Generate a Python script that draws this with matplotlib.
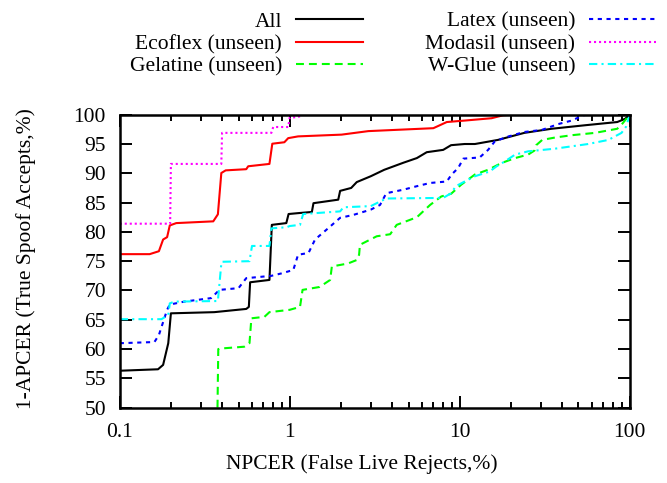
import matplotlib
matplotlib.use("Agg")
import matplotlib.pyplot as plt
from matplotlib.ticker import FixedLocator, FormatStrFormatter, LogLocator, NullFormatter

plt.rcParams["font.family"] = ["Liberation Serif", "DejaVu Serif"]
plt.rcParams["font.size"] = 15.5

# curves (x = NPCER %, y = 1-APCER %)
all_x = [0.1, 0.168, 0.18, 0.193, 0.2, 0.36, 0.555, 0.575, 0.585, 0.76, 0.785, 0.955, 0.985, 1.12,
         1.35, 1.38, 1.93, 1.98, 2.3, 2.48, 3.0, 3.6, 4.66, 5.6, 6.4, 8.0, 8.9, 10.7, 12.3,
         16.8, 24, 34.7, 54.6, 84.5, 94, 100]
all_y = [56.3, 56.55, 57.3, 61.0, 66.1, 66.3, 66.85, 67.2, 71.4, 71.8, 81.2, 81.5, 83.05, 83.2,
         83.4, 84.9, 85.5, 87.0, 87.5, 88.5, 89.5, 90.6, 91.8, 92.6, 93.6, 94.0, 94.8, 95.0, 95.0,
         95.7, 96.9, 97.6, 98.2, 98.75, 99.3, 100]

eco_x = [0.1, 0.15, 0.17, 0.18, 0.19, 0.197, 0.215, 0.355, 0.378, 0.396, 0.42, 0.555, 0.57,
         0.76, 0.79, 0.93, 0.98, 1.12, 2.02, 2.9, 7.0, 8.4, 10.7, 15.4, 18, 20, 100]
eco_y = [76.2, 76.2, 76.7, 78.7, 79.1, 81.1, 81.5, 81.8, 83.0, 90.05, 90.5, 90.7, 91.2,
         91.6, 95.05, 95.3, 96.0, 96.3, 96.6, 97.2, 97.7, 98.75, 99.0, 99.4, 99.9, 100, 100]

gel_x = [0.376, 0.38, 0.396, 0.54, 0.58, 0.595, 0.71, 0.76, 1.0, 1.15, 1.19, 1.5, 1.73, 1.77,
         2.2, 2.48, 2.56, 2.59, 3.25, 3.9, 4.26, 5.6, 6.7, 7.8, 8.9, 10.2, 12.3, 14.7, 17.6,
         21.2, 25.3, 27.6, 28.2, 30.6, 36.3, 45.6, 62.5, 84.5, 89.6, 98, 100]
gel_y = [50, 60.0, 60.1, 60.4, 61.0, 65.25, 65.5, 66.3, 66.7, 67.2, 70.1, 70.6, 71.8, 74.1,
         74.6, 75.2, 76.1, 77.8, 79.25, 79.6, 81.2, 82.5, 84.6, 86.05, 86.5, 88.05, 89.8, 90.6, 91.75,
         92.6, 93.2, 93.9, 94.8, 95.7, 96.1, 96.5, 96.9, 97.6, 98.3, 99.7, 100]

lat_x = [0.1, 0.16, 0.17, 0.19, 0.197, 0.24, 0.345, 0.386, 0.5, 0.555, 0.78, 0.89, 1.05, 1.12,
         1.29, 1.41, 1.65, 1.98, 2.37, 3.0, 3.4, 3.7, 4.66, 5.6, 6.7, 8.4, 8.97, 9.8, 10.5,
         13.1, 14.7, 16.1, 19.4, 24, 30.4, 38, 45.6, 53.4, 56, 100]
lat_y = [61.0, 61.2, 62.4, 66.7, 67.6, 68.1, 68.7, 70.1, 70.4, 72.1, 72.5, 72.9, 73.5, 76.1,
         76.4, 78.7, 80.4, 82.4, 82.9, 83.8, 84.6, 86.6, 87.2, 87.8, 88.35, 88.6, 89.8, 90.9, 92.5,
         92.7, 94.0, 95.45, 96.3, 97.05, 97.4, 98.4, 99.0, 99.9, 100, 100]

mod_x = [0.1, 0.198, 0.2, 0.396, 0.4, 0.78, 0.8, 0.98, 1.0, 1.12, 1.2, 100]
mod_y = [81.4, 81.4, 91.6, 91.6, 96.9, 96.9, 97.9, 97.9, 99.5, 99.6, 100, 100]

wg_x = [0.1, 0.176, 0.193, 0.197, 0.21, 0.378, 0.396, 0.4, 0.58, 0.6, 0.76, 0.78, 0.96, 1.0,
        1.15, 1.2, 1.98, 2.07, 3.0, 3.25, 3.7, 8.0, 8.9, 9.5, 10.7, 12.3, 15, 16.5, 18.5, 21.2,
        25.3, 36.3, 57, 75, 89.6, 95.5, 100]
wg_y = [65.1, 65.1, 65.8, 67.8, 68.1, 68.2, 74.6, 74.9, 75.0, 77.6, 77.6, 80.6, 80.8, 81.0,
        81.2, 83.05, 83.5, 84.2, 84.4, 84.9, 85.7, 85.8, 86.6, 87.8, 88.6, 89.5, 90.3, 91.2, 92.05, 93.2,
        93.75, 94.2, 95.0, 95.7, 96.9, 98.0, 100]

fig = plt.figure(figsize=(6.67, 4.83), dpi=100)
ax = fig.add_axes([0.1795, 0.156, 0.7645, 0.6065])

lw = 1.5
ax.plot(all_x, all_y, color="black", lw=lw, label="All")
ax.plot(eco_x, eco_y, color="#ff0000", lw=lw, label="Ecoflex (unseen)")
ax.plot(gel_x, gel_y, color="#00ff00", lw=lw, dashes=(3.8, 2.4), label="Gelatine (unseen)")
ax.plot(lat_x, lat_y, color="#0000ff", lw=lw, dashes=(2, 2.2), label="Latex (unseen)")
ax.plot(mod_x, mod_y, color="#ff00ff", lw=lw, dashes=(1, 1.4), label="Modasil (unseen)")
ax.plot(wg_x, wg_y, color="#00ffff", lw=lw, dashes=(4, 2, 1, 2), label="W-Glue (unseen)")

ax.set_xscale("log")
ax.set_xlim(0.1, 100)
ax.set_ylim(50, 100)
ax.xaxis.set_major_locator(FixedLocator([0.1, 1, 10, 100]))
ax.xaxis.set_major_formatter(FormatStrFormatter("%g"))
ax.xaxis.set_minor_locator(LogLocator(base=10, subs=range(2, 10)))
ax.xaxis.set_minor_formatter(NullFormatter())
ax.set_yticks(range(50, 101, 5))

ax.tick_params(which="both", direction="in", top=True, right=True, width=1.4)
ax.tick_params(which="major", length=8.6)
ax.tick_params(which="minor", length=4.3)
ax.tick_params(axis="y", pad=10)
ax.tick_params(axis="x", pad=11)
for s in ax.spines.values():
    s.set_linewidth(1.8)

ax.set_xlabel("NPCER (False Live Rejects,%)")
ax.set_ylabel("1-APCER (True Spoof Accepts,%)")
ax.xaxis.set_label_coords(0.475, -0.16)
ax.yaxis.set_label_coords(-0.165, 0.51)

fig.legend(loc="upper right", bbox_to_anchor=(0.99, 0.985), ncol=2, frameon=False,
           markerfirst=False, handlelength=3.1, handletextpad=0.65, columnspacing=2.9,
           labelspacing=0.12, borderaxespad=0.0, borderpad=0.2)

fig.savefig("out.png", dpi=100)
